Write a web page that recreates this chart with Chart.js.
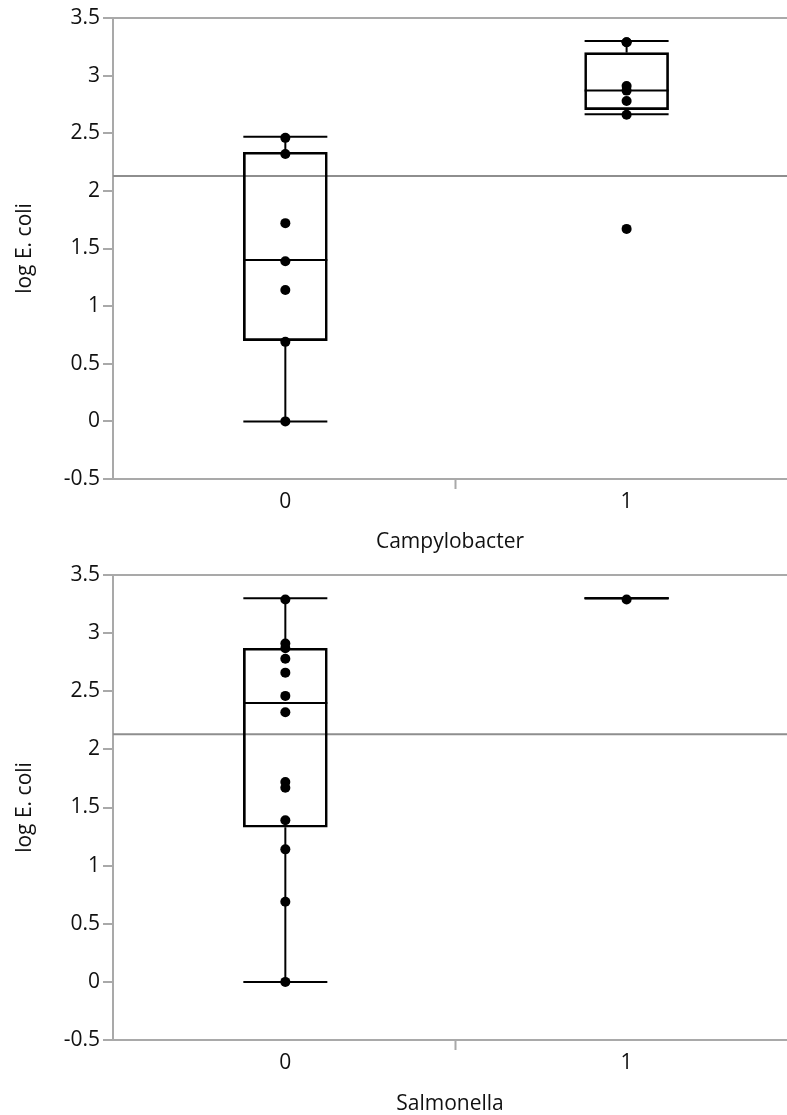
<!DOCTYPE html>
<html>
<head>
<meta charset="utf-8">
<script src="https://cdn.jsdelivr.net/npm/chart.js@4.4.1/dist/chart.umd.min.js"></script>
<style>
  body { margin: 0; background: #fff; }
  .panel { position: absolute; left: 0; width: 787px; }
</style>
</head>
<body>
<div class="panel" style="top:0;height:557px"><canvas id="campy"></canvas></div>
<div class="panel" style="top:557px;height:558px"><canvas id="salm"></canvas></div>
<script>
'use strict';

// Category positions and axis ticks.
const groups = [0, 1];
const xTickValues = [0, 0.5, 1];
const xTickLabels = ['0', '', '1'];
const yTickValues = [-0.5, 0, 0.5, 1, 1.5, 2, 2.5, 3, 3.5];
const yTickLabels = ['-0.5', '0', '0.5', '1', '1.5', '2', '2.5', '3', '3.5'];
const grandMean = 2.13;

// Campylobacter: raw values per group and box statistics.
const campyValues0 = [2.46, 2.32, 1.72, 1.39, 1.14, 0.69, 0];
const campyValues1 = [3.29, 3.29, 2.91, 2.87, 2.78, 2.66, 1.67];
const campyLow = [0, 2.665];
const campyQ1 = [0.70, 2.705];
const campyMedian = [1.40, 2.87];
const campyQ3 = [2.335, 3.20];
const campyHigh = [2.47, 3.30];

// Salmonella: raw values per group and box statistics.
const salmValues0 = [3.29, 2.91, 2.87, 2.78, 2.66, 2.46, 2.32, 1.72, 1.67, 1.39, 1.14, 0.69, 0];
const salmValues1 = [3.29];
const salmLow = [0, 3.30];
const salmQ1 = [1.33, 3.30];
const salmMedian = [2.40, 3.30];
const salmQ3 = [2.87, 3.30];
const salmHigh = [3.30, 3.30];

const X_MIN = -0.505;
const X_MAX = 1.47;
const FONT = { family: '"Open Sans", "Noto Sans", sans-serif', size: 21 };
const TEXT = '#111';
const AXIS = '#a9a9a9';

function makeChart(id, opts) {
    let pointData = [];
    opts.values.forEach((vals, g) => {
        for (let v of vals) pointData.push({x: groups[g], y: v});
    });
    let lineMarks = [];
    for (let g of groups) {
        lineMarks.push({x: g, y: opts.median[g]});
        lineMarks.push({x: g, y: opts.low[g]});
        lineMarks.push({x: g, y: opts.high[g]});
    }
    let datasets = [
        {
            type: 'scatter',
            data: pointData,
            pointRadius: 5,
            pointBackgroundColor: '#000',
            pointBorderWidth: 0,
        },
        {
            // median and whisker caps
            type: 'scatter',
            data: lineMarks,
            pointStyle: 'line',
            pointRadius: 42,
            pointBorderWidth: 2,
            pointBorderColor: '#000',
        },
    ];
    // whisker stems
    for (let g of groups) {
        datasets.push({
            type: 'scatter', showLine: true, pointRadius: 0,
            borderColor: '#000', borderWidth: 2,
            data: [{x: g, y: opts.low[g]}, {x: g, y: opts.q1[g]}],
        });
        datasets.push({
            type: 'scatter', showLine: true, pointRadius: 0,
            borderColor: '#000', borderWidth: 2,
            data: [{x: g, y: opts.q3[g]}, {x: g, y: opts.high[g]}],
        });
    }
    // boxes
    datasets.push({
        type: 'bar',
        data: groups.map(g => ({x: g, y: [opts.q1[g], opts.q3[g]]})),
        barThickness: 84,
        borderWidth: 2,
        borderColor: '#000',
        borderSkipped: false,
        backgroundColor: 'rgba(0,0,0,0)',
    });
    // overall mean reference line
    datasets.push({
        type: 'scatter', showLine: true, pointRadius: 0,
        borderColor: '#8e8e8e', borderWidth: 2,
        data: [{x: X_MIN, y: grandMean}, {x: X_MAX, y: grandMean}],
    });

    return new Chart(document.getElementById(id), {
        type: 'scatter',
        data: { datasets: datasets },
        options: {
            responsive: true,
            maintainAspectRatio: false,
            animation: false,
            events: [],
            layout: { autoPadding: false, padding: { top: 18, left: 0, right: 0, bottom: 0 } },
            plugins: { legend: { display: false }, tooltip: { enabled: false } },
            scales: {
                x: {
                    type: 'linear',
                    min: X_MIN,
                    max: X_MAX,
                    offset: false,
                    afterBuildTicks: s => { s.ticks = xTickValues.map(v => ({value: v})); },
                    afterFit: s => { s.height = opts.xHeight; },
                    ticks: {
                        autoSkip: false,
                        maxRotation: 0,
                        padding: 0,
                        color: TEXT,
                        font: FONT,
                        callback: (v, i) => xTickLabels[i],
                    },
                    grid: {
                        offset: false,
                        drawOnChartArea: false,
                        tickLength: 10,
                        tickWidth: 2,
                        tickColor: ctx => (ctx.tick && ctx.tick.value === 0.5) ? AXIS : 'rgba(0,0,0,0)',
                    },
                    border: { color: AXIS, width: 2 },
                    title: {
                        display: true,
                        text: opts.xTitle,
                        color: TEXT,
                        font: FONT,
                        padding: { top: 0, bottom: opts.titlePad },
                    },
                },
                y: {
                    min: -0.5,
                    max: 3.5,
                    afterBuildTicks: s => { s.ticks = yTickValues.map(v => ({value: v})); },
                    afterFit: s => { s.width = 113; },
                    ticks: {
                        padding: 3,
                        color: TEXT,
                        font: FONT,
                        callback: (v, i) => yTickLabels[i],
                    },
                    grid: {
                        tickLength: 10,
                        tickWidth: 2,
                        tickColor: AXIS,
                        lineWidth: 2,
                        color: ctx => (ctx.tick && ctx.tick.value === 3.5) ? AXIS : 'rgba(0,0,0,0)',
                    },
                    border: { color: AXIS, width: 2 },
                    title: {
                        display: true,
                        text: 'log E. coli',
                        color: TEXT,
                        font: FONT,
                        padding: { top: 12, bottom: 0 },
                    },
                },
            },
        },
    });
}

makeChart('campy', {
    values: [campyValues0, campyValues1],
    low: campyLow, q1: campyQ1, median: campyMedian, q3: campyQ3, high: campyHigh,
    xTitle: 'Campylobacter',
    xHeight: 78,
    titlePad: 2,
});

makeChart('salm', {
    values: [salmValues0, salmValues1],
    low: salmLow, q1: salmQ1, median: salmMedian, q3: salmQ3, high: salmHigh,
    xTitle: 'Salmonella',
    xHeight: 75,
    titlePad: -2,
});
</script>
</body>
</html>
